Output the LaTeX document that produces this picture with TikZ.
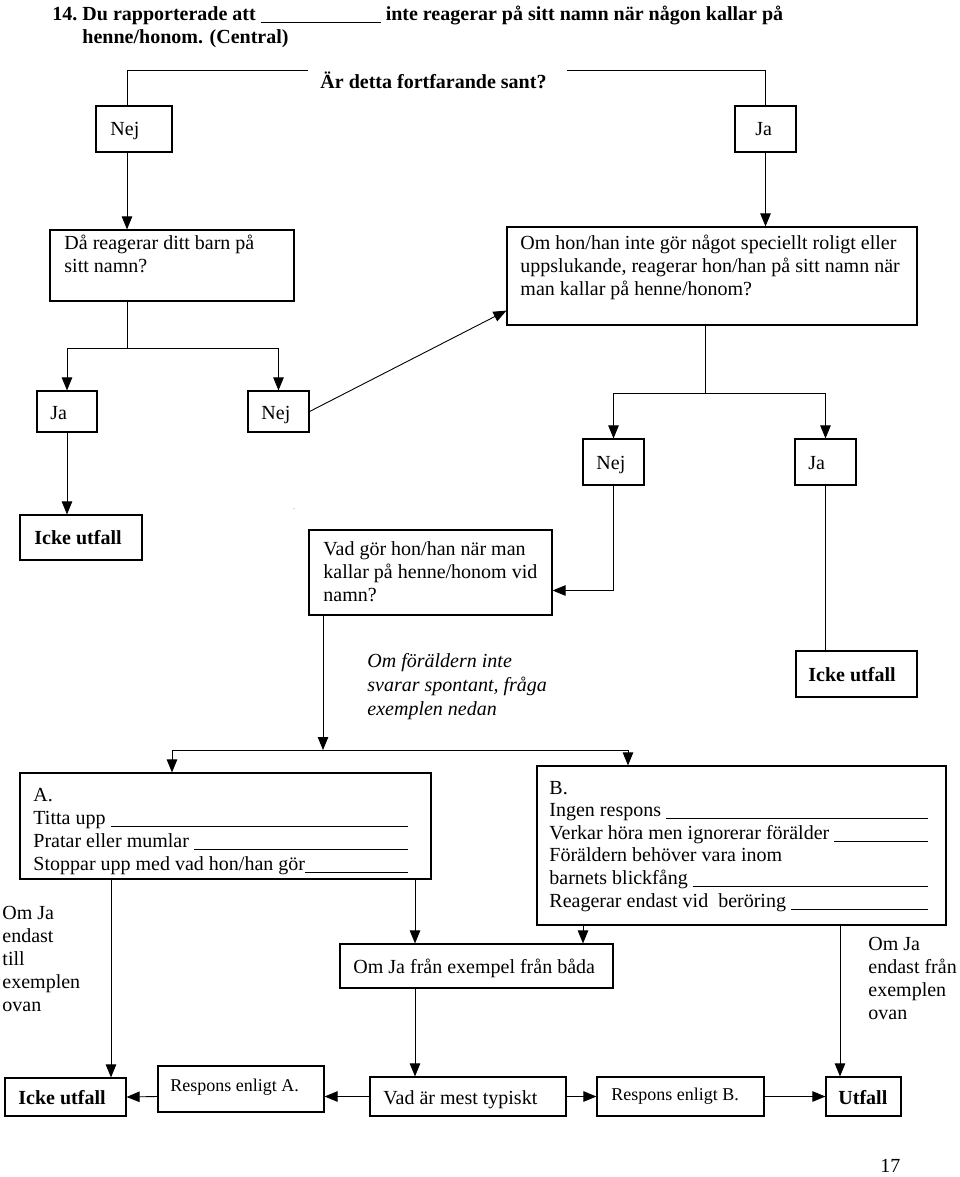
\documentclass[tikz,border=0pt]{standalone}
\usepackage{fontspec}
\setmainfont{Liberation Serif}
\usetikzlibrary{arrows.meta}

\newcommand{\lines}[1]{\begin{tabular}[t]{@{}l@{}}#1\end{tabular}}
\newcommand{\fillin}{\leavevmode\leaders\hrule height -1.5pt depth 2.5pt\hskip 0pt plus 1fill\null}
\newcommand{\flowbox}[5]{% name, x0, y0, x1, y1
    \node[box, minimum width={#4-#2}, minimum height={#5-#3}]
        (#1) at ({(#2+#4)/2}, {(#3+#5)/2}) {};}

\begin{document}
\begin{tikzpicture}[x=1pt, y=-1pt, line width=0.9pt,
    every node/.style={font=\fontsize{20}{23}\selectfont},
    box/.style={draw, line width=1.2pt, inner sep=0pt},
    txt/.style={anchor=base west, inner sep=0pt},
    bold/.style={txt, font=\fontsize{20}{23}\selectfont\bfseries},
    small/.style={txt, font=\fontsize{18}{22}\selectfont},
    arr/.style={-{Triangle[length=13pt, width=10.5pt]}}]
    \useasboundingbox (0,0) rectangle (960,1177);

    % title
    \node[bold] (num) at (52,21) {14.};
    \node[bold] (title) at (82,21) {\lines{Du rapporterade att
        \rule[-2pt]{120pt}{1pt} inte reagerar på sitt namn när någon kallar på\\
        henne/honom. (Central)}};
    \node[bold] (q1) at (320,89) {Är detta fortfarande sant?};

    % boxes
    \flowbox{nej1}{96}{106}{172}{152}
    \flowbox{ja1}{735}{106}{796}{152}
    \flowbox{da}{50}{230}{294}{301}
    \flowbox{om}{507}{227}{917}{325}
    \flowbox{ja2}{37}{391}{97}{432}
    \flowbox{nej2}{248}{391}{309}{432}
    \flowbox{nej3}{583}{439}{644}{485}
    \flowbox{ja3}{795}{439}{856}{485}
    \flowbox{icke1}{20}{515}{142}{560}
    \flowbox{vad}{309}{530}{552}{615}
    \flowbox{icke2}{796}{651}{917}{697}
    \flowbox{abox}{20}{773}{431}{879}
    \flowbox{bbox}{537}{766}{946}{925}
    \flowbox{omja}{340}{944}{613}{988}
    \flowbox{icke3}{5}{1078}{126}{1116}
    \flowbox{respa}{158}{1066}{324}{1112}
    \flowbox{typ}{370}{1077}{566}{1116}
    \flowbox{respb}{597}{1077}{764}{1116}
    \flowbox{utfall}{826}{1077}{901}{1116}

    % texts
    \node[txt] (nej1-t) at (110,136) {Nej};
    \node[txt] (ja1-t) at (755,136) {Ja};
    \node[txt] (da-t) at (64,249) {\lines{Då reagerar ditt barn på\\sitt namn?}};
    \node[txt] (om-t) at (520,249) {\lines{Om hon/han inte gör något speciellt roligt eller\\
        uppslukande, reagerar hon/han på sitt namn när\\man kallar på henne/honom?}};
    \node[txt] (ja2-t) at (50,419) {Ja};
    \node[txt] (nej2-t) at (261,419) {Nej};
    \node[txt] (nej3-t) at (596,469) {Nej};
    \node[txt] (ja3-t) at (808,469) {Ja};
    \node[bold] (icke1-t) at (34,544) {Icke utfall};
    \node[txt, font=\fontsize{6}{6}\selectfont] (dot) at (293,509) {.};
    \node[txt] (vad-t) at (323,555) {\lines{Vad gör hon/han när man\\
        kallar på henne/honom vid\\namn?}};
    \node[bold] (icke2-t) at (808,681) {Icke utfall};
    \node[txt, font=\fontsize{20}{24}\selectfont\itshape] (note) at (367,667)
        {\lines{Om föräldern inte\\svarar spontant, fråga\\exemplen nedan}};
    \node[txt] (abox-t) at (33,801) {\begin{tabular}[t]{@{}p{375pt}@{}}
        A.\\Titta upp \fillin\\Pratar eller mumlar \fillin\\
        Stoppar upp med vad hon/han gör\fillin\end{tabular}};
    \node[txt, font=\fontsize{20}{22.6}\selectfont] (bbox-t) at (549,794)
        {\begin{tabular}[t]{@{}p{379pt}@{}}
        B.\\Ingen respons \fillin\\Verkar höra men ignorerar förälder \fillin\\
        Föräldern behöver vara inom\\barnets blickfång \fillin\\
        Reagerar endast vid \ beröring \fillin\end{tabular}};
    \node[txt] (left-note) at (2,919) {\lines{Om Ja\\endast\\till\\exemplen\\ovan}};
    \node[txt] (right-note) at (868,950) {\lines{Om Ja\\endast från\\exemplen\\ovan}};
    \node[txt] (omja-t) at (353,973) {Om Ja från exempel från båda};
    \node[bold] (icke3-t) at (18,1104) {Icke utfall};
    \node[small] (respa-t) at (170,1091) {Respons enligt A.};
    \node[txt] (typ-t) at (383,1104) {Vad är mest typiskt};
    \node[small] (respb-t) at (611,1100) {Respons enligt B.};
    \node[bold] (utfall-t) at (838,1104) {Utfall};
    \node[txt] (page) at (880,1172) {17};

    % columns and branch points
    \coordinate (c1) at (127,0);
    \coordinate (s1) at (127,348);
    \coordinate (s2) at (705,393);
    \coordinate (s3) at (323,750);
    \coordinate (s3l) at (172,750);
    \coordinate (s3r) at (628,750);
    \coordinate (ca) at (111,0);
    \coordinate (cm) at (415,0);
    \coordinate (cb) at (583,0);
    \coordinate (cu) at (840,0);

    % connectors
    \draw (nej1.north -| c1) |- ([xshift=-12pt, yshift=10pt]q1.west);
    \draw (ja1.north) |- ([xshift=20pt, yshift=10pt]q1.east);
    \draw[arr] (nej1.south -| c1) -- (da.north -| c1);
    \draw[arr] (ja1.south) -- (om.north -| ja1.south);
    \draw (da.south -| s1) -- (s1);
    \draw[arr] (s1) -| (ja2.north);
    \draw[arr] (s1) -| (nej2.north);
    \draw[arr] (nej2.east) -- ([yshift=15pt]om.south west);
    \draw (om.south -| s2) -- (s2);
    \draw[arr] (s2) -| (nej3.north);
    \draw[arr] (s2) -| (ja3.north);
    \draw[arr] (ja2.south) -- (icke1.north -| ja2.south);
    \draw[arr] (nej3.south) |- ([yshift=-18pt]vad.east);
    \draw (ja3.south) -- (icke2.north -| ja3.south);
    \draw[arr] (vad.south -| s3) -- (s3);
    \draw (s3l) -- (s3r);
    \draw[arr] (s3l) -- (abox.north -| s3l);
    \draw[arr] (s3r) -- (bbox.north -| s3r);
    \draw[arr] (abox.south -| ca) -- (icke3.north -| ca);
    \draw[arr] (abox.south -| cm) -- (omja.north -| cm);
    \draw[arr] (bbox.south -| cb) -- (omja.north -| cb);
    \draw[arr] (bbox.south -| cu) -- (utfall.north -| cu);
    \draw[arr] (omja.south -| cm) -- (typ.north -| cm);
    \draw[arr] (typ.west) -- (typ.west -| respa.east);
    \draw[arr] (respa.west |- typ.west) -- (icke3.east);
    \draw[arr] (typ.east) -- (respb.west);
    \draw[arr] (respb.east) -- (utfall.west);
\end{tikzpicture}
\end{document}
